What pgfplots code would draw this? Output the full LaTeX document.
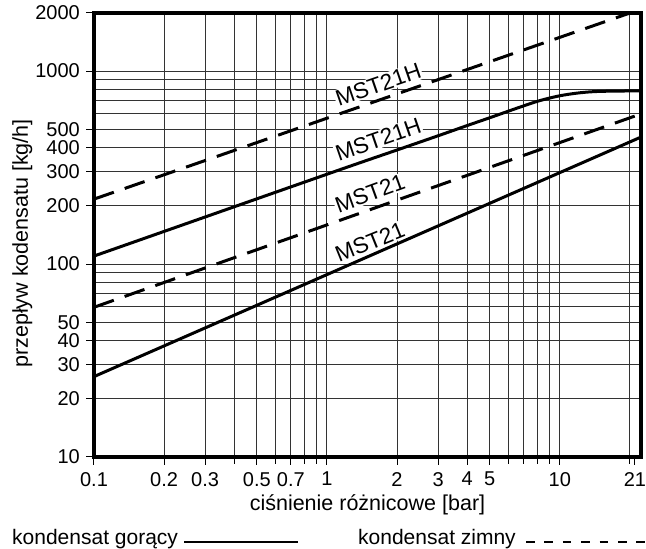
\documentclass[border=0pt]{standalone}
\usepackage{fontspec}
\setmainfont{Liberation Sans}
\usepackage{pgfplots}
\pgfplotsset{compat=1.18}

\begin{document}
\begin{tikzpicture}[x=1pt,y=1pt]
\useasboundingbox (0,0) rectangle (646,549);
\begin{axis}[
  at={(94pt,92pt)}, anchor=south west,
  scale only axis, width=547pt, height=444pt,
  xmode=log, ymode=log,
  xmin=0.1, xmax=22.3, ymin=10, ymax=2000,
  xtick={0.1,0.2,0.3,0.5,0.7,1,2,3,4,5,10},
  xticklabels={0.1,0.2,0.3,0.5,0.7,1,2,3,4,5,10},
  minor xtick={0.4,0.6,0.8,0.9,6,7,8,9,20},
  extra x ticks={21},
  extra x tick labels={21},
  extra x tick style={grid=none},
  ytick={10,20,30,40,50,100,200,300,400,500,1000,2000},
  yticklabels={10,20,30,40,50,100,200,300,400,500,1000,2000},
  minor ytick={60,70,80,90,600,700,800,900},
  grid=both,
  major grid style={line width=1pt, black!80},
  minor grid style={line width=1pt, black!80},
  tick pos=left, tick align=outside,
  major tick length=8pt, minor tick length=7pt,
  tick style={line width=1pt, black},
  minor y tick style={draw=none},
  axis line style={line width=4.5pt},
  /pgf/number format/assume math mode=true,
  ticklabel style={font=\fontsize{20}{24}\selectfont},
  xticklabel style={anchor=north, inner sep=0pt, yshift=-7pt},
  yticklabel style={anchor=east, inner sep=0pt, xshift=-6pt},
  xlabel={ciśnienie różnicowe [bar]},
  ylabel={przepływ kodensatu [kg/h]},
  xlabel style={at={(axis description cs:0.5,-0.1194)}, anchor=base, inner sep=0pt, font=\fontsize{21.5}{26}\selectfont},
  ylabel style={at={(axis description cs:-0.1207,0.481)}, anchor=base, inner sep=0pt, font=\fontsize{21.5}{26}\selectfont},
]
% MST21, kondensat goracy
\addplot[line width=3pt] coordinates {(0.1,26.1) (22.3,455)};
% MST21, kondensat zimny
\addplot[line width=3pt, dash pattern=on 21pt off 11.5pt] coordinates {(0.1,59.7) (22.3,600)};
% MST21H, kondensat goracy
\addplot[line width=3pt, smooth] coordinates {
  (0.1,110) (1,292) (2,390) (3,462) (4,522) (5,573) (6.73,650)
  (8.2,703) (10,745) (12.2,772) (14.9,785) (22.3,790)};
% MST21H, kondensat zimny
\addplot[line width=3pt, dash pattern=on 21pt off 11.5pt] coordinates {(0.1,217) (20,2000)};

\node[fill=white, inner sep=1pt, rotate=19, font=\fontsize{22.5}{27}\selectfont] at (axis cs:1.66,850) {MST21H};
\node[fill=white, inner sep=1pt, rotate=19, font=\fontsize{22.5}{27}\selectfont] at (axis cs:1.66,442) {MST21H};
\node[fill=white, inner sep=1pt, rotate=20, font=\fontsize{22.5}{27}\selectfont] at (axis cs:1.53,232) {MST21};
\node[fill=white, inner sep=1pt, rotate=22, font=\fontsize{22.5}{27}\selectfont] at (axis cs:1.53,130) {MST21};
\end{axis}

% legenda
\node[anchor=base west, inner sep=0pt, font=\fontsize{21}{25}\selectfont] at (12,4) {kondensat gorący};
\draw[line width=2.5pt] (184,7) -- (298,7);
\node[anchor=base west, inner sep=0pt, font=\fontsize{21}{25}\selectfont] at (358,4) {kondensat zimny};
\draw[line width=2.5pt, dash pattern=on 8.5pt off 9.9pt] (526,7) -- (645,7);
\end{tikzpicture}
\end{document}
